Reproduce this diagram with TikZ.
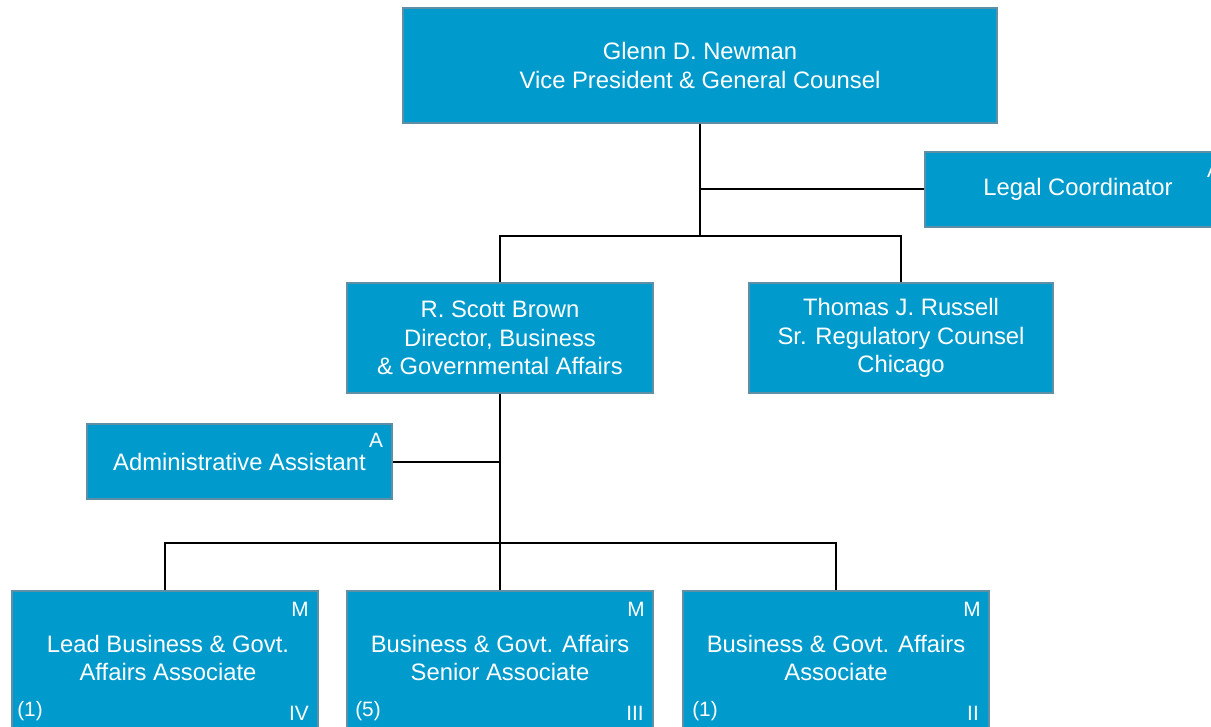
\documentclass[tikz,border=0pt]{standalone}
\usepackage{fontspec}
\setmainfont{Liberation Sans}
\usetikzlibrary{positioning}
\definecolor{cajaazul}{HTML}{009BCC}
\definecolor{bordeazul}{HTML}{5E8FA5}
\definecolor{linea}{HTML}{000000}
\tikzset{
  caja/.style={rectangle,draw=bordeazul,fill=cajaazul,line width=1pt,inner sep=0pt,text=white,align=center,font=\fontsize{11.9}{14.4}\selectfont},
  marca/.style={inner sep=0pt,text=white,font=\fontsize{10.4}{12}\selectfont},
  rama/.style={draw=linea,line width=1pt},
}
\begin{document}
\begin{tikzpicture}[x=0.5pt,y=-0.5pt]
\useasboundingbox (0,0) rectangle (1211,727);
\clip (0,0) rectangle (1211,727);
% cajas
\node[caja,minimum width=297pt,minimum height=57.5pt] (newman) at (700,65.5) {Glenn D. Newman\\Vice President \& General Counsel};
\node[caja,minimum width=153pt,minimum height=37.5pt,anchor=west] (coord) at (924,189.5) {Legal Coordinator};
\node[marca] (coordA) at (1214,170) {A};
\node[caja,minimum width=153pt,minimum height=55pt] (brown) at (500,338) {R. Scott Brown\\Director, Business\\\& Governmental Affairs};
\node[caja,minimum width=152pt,minimum height=55pt] (russell) at (901,338) {Thomas J. Russell\\Sr. Regulatory Counsel\\Chicago};
\node[caja,minimum width=152.5pt,minimum height=37.5pt] (asist) at (239.5,461.5) {Administrative Assistant};
\node[marca] (asistA) at (376,440) {A};
\node[caja,minimum width=153pt,minimum height=75pt,anchor=north] (lider) at (165,590) {};
\node[caja,minimum width=153pt,minimum height=75pt,anchor=north] (senior) at (500,590) {};
\node[caja,minimum width=153pt,minimum height=75pt,anchor=north] (asoc) at (836,590) {};
\node[caja,draw=none,fill=none] (liderT) at (168,658) {Lead Business \& Govt.\\Affairs Associate};
\node[caja,draw=none,fill=none] (seniorT) at (500,658) {Business \& Govt. Affairs\\Senior Associate};
\node[caja,draw=none,fill=none] (asocT) at (836,658) {Business \& Govt. Affairs\\Associate};
\node[marca] (liderM) at (300,609) {M};
\node[marca] (seniorM) at (636,609) {M};
\node[marca] (asocM) at (972,609) {M};
\node[marca] (liderG) at (299,713) {IV};
\node[marca] (seniorG) at (635,713) {III};
\node[marca] (asocG) at (973,713) {II};
\node[marca] (liderN) at (30,711) {(1)};
\node[marca] (seniorN) at (368,711) {(5)};
\node[marca] (asocN) at (705,711) {(1)};
% uniones
\coordinate (jtop) at (700,236);
\coordinate (jbaja) at (500,543);
\draw[rama] (newman.south) |- (coord.west);
\draw[rama] (newman.south) -- (jtop);
\draw[rama] (jtop) -| (brown.north);
\draw[rama] (jtop) -| (russell.north);
\draw[rama] (brown.south) |- (asist.east);
\draw[rama] (brown.south) -- (jbaja);
\draw[rama] (jbaja) -| (lider.north);
\draw[rama] (jbaja) -- (senior.north);
\draw[rama] (jbaja) -| (asoc.north);
\end{tikzpicture}
\end{document}
